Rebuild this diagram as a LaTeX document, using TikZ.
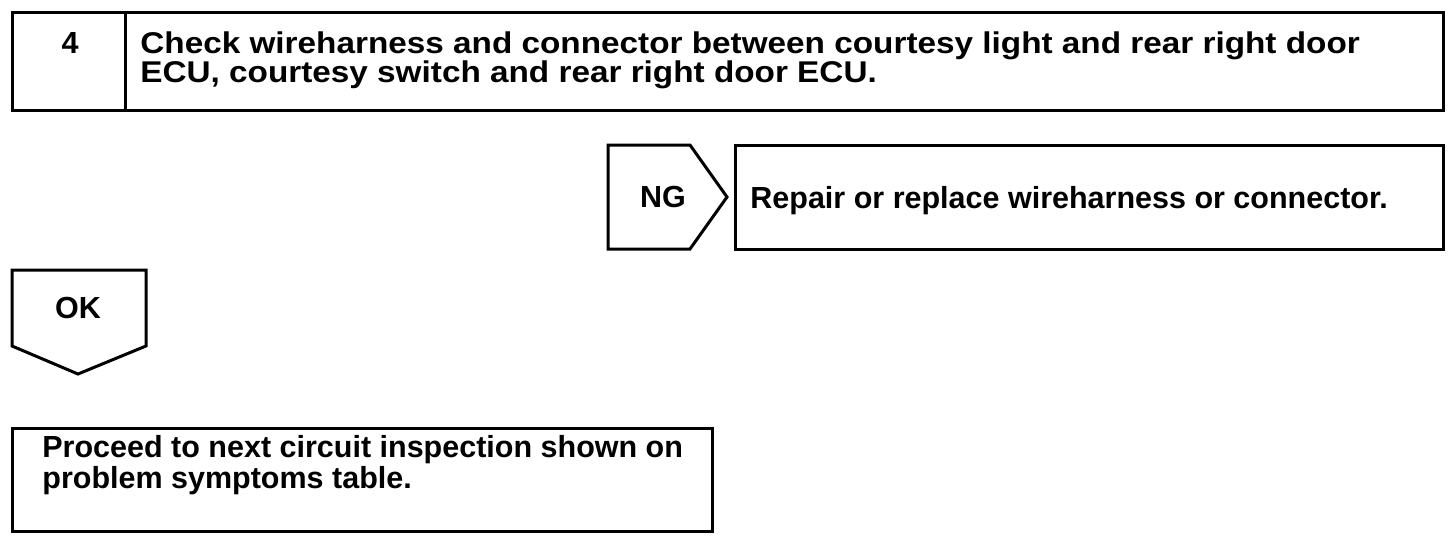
\documentclass[tikz,border=0pt]{standalone}
\usepackage{fontspec}
\setmainfont{Liberation Sans}
\newfontfamily\widesans{Liberation Sans}[FakeStretch=1.11]
\usetikzlibrary{positioning}

\tikzset{
	box/.style={draw, line width=1.5pt, inner sep=0pt, outer sep=0pt},
	lbl/.style={inner sep=0pt, font=\fontsize{15.25}{13.5}\selectfont\bfseries},
	toplbl/.style={inner sep=0pt, font=\widesans\fontsize{15}{14.5}\selectfont\bfseries}
}

\begin{document}
\begin{tikzpicture}[x=0.5pt, y=-0.5pt]
	\useasboundingbox (0,0) rectangle (1456,542);
	\node[box, anchor=north west, minimum width=56.5pt, minimum height=49pt] (num) at (12,12) {};
	\node[box, right=0pt of num, minimum width=659pt, minimum height=49pt] (chk) {};
	\node[lbl, anchor=base] (numtxt) at (70,53) {4};
	\node[toplbl, anchor=base west, align=left] (chktxt) at (140,82)
		{Check wireharness and connector between courtesy light and rear right door\\ECU, courtesy switch and rear right door ECU.};
	\draw[line width=1.5pt, line join=miter] (608,145) -- (690,145) -- (727,197) -- (690,249) -- (608,249) -- cycle;
	\node[lbl] (ng) at (663,197) {NG};
	\node[box, anchor=north west, minimum width=354pt, minimum height=52pt] (fix) at (735,145) {};
	\node[lbl, anchor=base west] (fixtxt) at (750,208) {Repair or replace wireharness or connector.};
	\draw[line width=1.5pt, line join=miter] (12,270) -- (146,270) -- (146,346) -- (78,374) -- (12,346) -- cycle;
	\node[lbl] (ok) at (78,308) {OK};
	\node[box, anchor=north west, minimum width=350pt, minimum height=51.5pt] (nxt) at (12,428) {};
	\node[lbl, anchor=base west, align=left] (nxttxt) at (42,488)
		{Proceed to next circuit inspection shown on\\problem symptoms table.};
\end{tikzpicture}
\end{document}
